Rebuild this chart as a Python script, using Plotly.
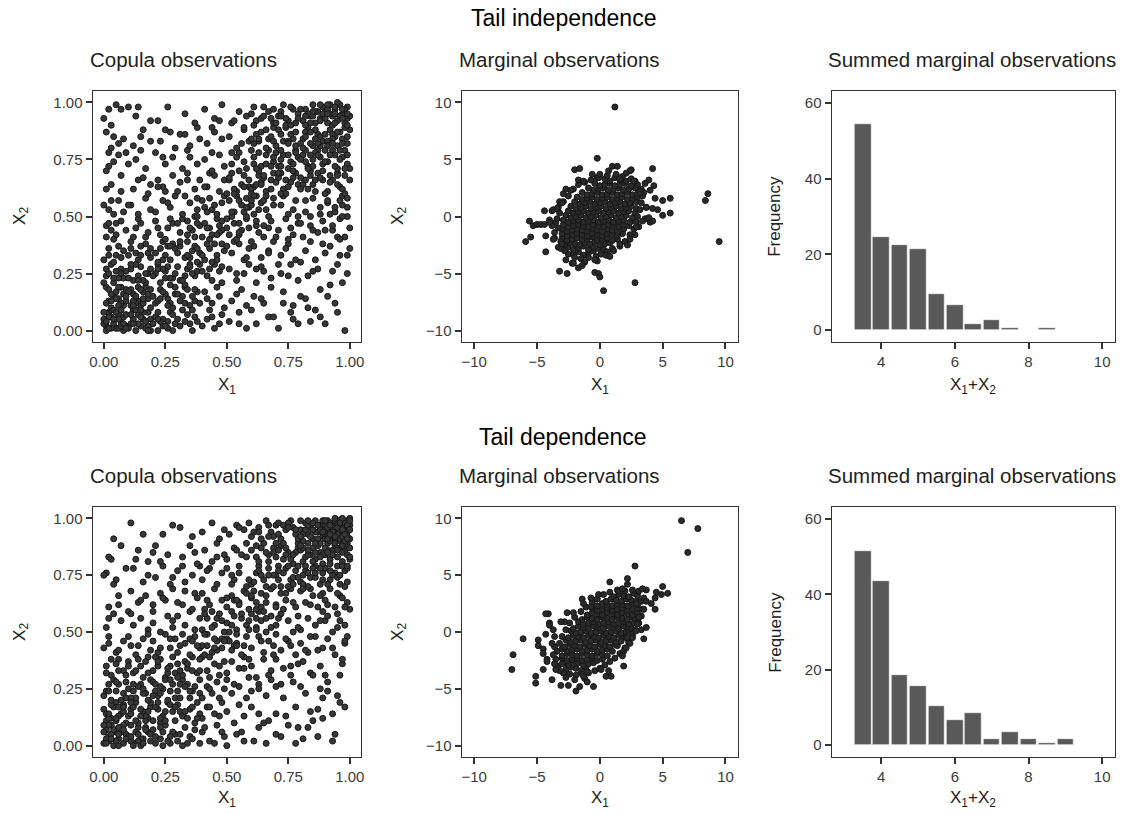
import numpy as np
import plotly.graph_objects as go

# ---------------- data ----------------
# Copula observations, tail independence (values in percent of [0,1])
cop_ind_pts = [
(1,2),(3,6),(5,1),(7,4),(2,8),(8,0),(0,5),(4,3),(6,7),(9,2),(1,0),(3,9),(6,1),(8,6),
(11,3),(14,7),(17,1),(12,9),(19,5),(15,2),(13,0),(18,8),(16,5),
(21,6),(24,2),(27,8),(29,3),(22,0),(26,4),(31,2),(34,7),(38,4),(36,0),
(42,5),(45,1),(48,7),(43,9),(51,4),(55,8),(58,1),(62,3),(67,6),(71,1),(76,8),(84,4),(98,0),
(2,13),(5,17),(8,11),(1,19),(4,15),(7,12),(9,18),(3,10),(6,14),
(12,16),(15,11),(18,14),(11,18),(14,13),(17,19),(19,10),(13,12),(16,17),
(21,12),(23,18),(26,14),(28,10),(25,16),(29,19),(32,15),(35,11),(38,17),(33,19),(37,13),
(41,17),(44,12),(47,15),(49,10),(52,13),(56,18),(58,11),(54,16),(61,15),(65,12),(68,19),
(73,17),(77,11),(82,14),(88,18),(94,12),
(1,24),(4,21),(7,27),(3,29),(8,23),(5,26),(12,22),(15,28),(18,25),(11,27),(17,21),(14,24),
(21,25),(23,21),(26,28),(28,23),(22,29),(27,20),(25,26),(31,22),(34,27),(37,24),(39,29),(33,20),(36,25),
(42,24),(45,29),(48,21),(43,27),(47,26),(51,27),(54,22),(57,25),(59,29),
(62,21),(65,26),(68,23),(64,28),(72,25),(76,29),(79,22),(83,24),(87,27),(93,26),(97,21),
(2,33),(6,37),(4,30),(8,35),(11,36),(14,31),(17,38),(13,34),(19,32),
(21,34),(24,39),(27,31),(29,36),(22,30),(26,37),(31,37),(33,32),(36,35),(38,30),(34,39),(39,34),
(41,31),(43,36),(46,33),(48,38),(44,30),(49,35),(52,34),(55,38),(57,31),(59,36),(53,39),
(61,37),(64,32),(67,35),(69,39),(72,33),(75,38),(78,31),(74,36),(82,35),(86,31),(89,38),(92,37),(96,33),
(1,46),(5,42),(7,48),(3,44),(12,41),(15,47),(18,43),(14,49),(22,45),(25,40),(28,47),(23,42),(27,49),
(31,43),(34,48),(37,41),(39,46),(32,49),(36,44),(41,47),(44,42),(46,49),(48,44),(43,40),(47,46),
(51,42),(53,47),(56,44),(58,49),(54,40),(59,45),(62,46),(65,41),(68,48),(63,43),(67,45),
(71,44),(74,49),(77,42),(79,47),(81,41),(84,46),(87,43),(89,48),(93,44),(96,49),(98,41),
(2,53),(6,57),(4,51),(11,55),(14,51),(17,58),(19,53),(21,52),(24,57),(27,54),(29,59),
(32,51),(35,56),(38,53),(33,59),(37,50),(41,54),(43,58),(46,51),(48,56),(44,53),(49,59),
(51,57),(53,52),(56,55),(58,50),(54,59),(59,54),(61,51),(64,56),(66,53),(69,58),(62,59),(67,50),
(72,55),(75,51),(78,57),(73,59),(77,53),(82,52),(85,58),(88,54),(84,50),(91,56),(94,52),(97,59),(99,54),
(3,64),(7,68),(12,62),(16,67),(19,64),(22,66),(25,61),(28,68),(24,63),(31,65),(34,69),(37,62),(39,66),
(42,63),(45,68),(47,61),(49,66),(43,69),(51,66),(54,61),(57,68),(59,63),(52,69),(56,64),
(61,63),(63,68),(66,61),(68,66),(64,65),(69,69),(71,67),(73,62),(76,65),(78,69),(74,60),(79,64),
(81,64),(84,68),(86,61),(89,66),(83,62),(87,69),(91,61),(93,66),(96,63),(98,68),(95,69),
(2,72),(6,77),(13,75),(17,71),(21,78),(25,73),(28,76),(32,71),(35,76),(38,73),(34,79),
(41,75),(44,70),(47,77),(49,72),(52,73),(55,78),(58,71),(54,76),(57,74),
(61,76),(64,72),(67,79),(69,74),(63,70),(66,77),(71,72),(73,77),(76,74),(78,79),(72,75),(75,71),(79,76),
(81,77),(83,72),(85,75),(87,79),(89,73),(82,74),(84,70),(86,78),(88,76),
(91,74),(93,79),(95,71),(97,76),(99,73),(94,77),
(4,85),(12,81),(16,88),(23,83),(27,87),(31,86),(35,81),(38,89),(42,82),(45,87),(48,84),(44,89),
(51,85),(54,80),(57,88),(59,83),(61,82),(64,87),(67,84),(69,89),(62,86),
(71,88),(73,83),(76,86),(78,81),(74,89),(77,84),
(81,84),(83,89),(85,81),(87,86),(89,83),(82,87),(84,82),(86,88),(88,85),
(91,83),(92,88),(94,85),(95,81),(96,87),(97,84),(98,89),(99,82),(93,86),
(7,97),(13,94),(22,92),(26,98),(33,95),(37,91),(41,97),(45,93),(48,99),(52,91),(55,96),(58,94),
(61,98),(64,93),(67,96),(69,91),(71,94),(73,99),(75,92),(77,97),(79,95),(74,90),
(81,92),(82,97),(84,94),(85,99),(86,91),(87,96),(88,93),(89,98),(83,95),
(90,96),(91,91),(92,99),(93,94),(94,97),(95,92),(96,99),(97,95),(98,91),(99,98),(91,97),(93,90),(96,94),(99,93),
(2,97),(5,99),(10,98),(1,87),(3,80),(1,70),(4,74),(14,98),(9,78),
]
cop_ind_extra = [
(0,3),(2,6),(4,9),(6,5),(9,7),(3,1),(7,2),(1,4),(5,8),(8,3),
(10,1),(12,5),(14,3),(16,8),(18,2),(11,7),(13,9),(15,6),(17,4),(19,0),
(20,3),(22,8),(24,5),(26,1),(28,7),(23,4),(30,5),(32,9),(35,3),(37,6),
(1,12),(3,16),(5,14),(7,19),(9,13),(2,18),(6,11),(8,16),
(10,17),(12,13),(14,19),(16,12),(18,16),(13,15),(15,18),(11,11),
(20,15),(22,13),(24,17),(27,12),(29,16),(31,13),(34,18),(36,15),(39,12),
(0,21),(2,25),(6,23),(9,26),(10,23),(13,29),(16,22),(19,27),(20,24),(24,27),(27,23),(30,28),(33,24),(35,29),(38,26),
(0,31),(5,33),(10,33),(15,37),(18,34),(23,36),(25,33),(28,38),(30,34),(35,32),(37,37),(40,33),
(40,41),(43,45),(45,38),(47,43),(50,45),(52,50),(55,47),(57,52),(45,55),(50,60),(55,42),(42,52),
(60,55),(62,48),(58,58),(48,48),(35,45),(38,50),(53,62),(60,62),(40,57),(65,57),
(60,60),(62,64),(65,67),(68,62),(70,65),(72,69),(75,63),(77,67),(80,62),(82,66),(85,64),(88,67),
(90,60),(92,65),(95,68),(97,62),(100,66),
(61,73),(63,78),(66,73),(69,76),(70,78),(72,72),(75,77),(77,73),(80,75),(82,79),(85,72),(87,77),
(90,74),(92,77),(94,72),(96,75),(98,79),(100,71),
(60,84),(63,83),(66,88),(68,85),(70,81),(72,86),(75,83),(78,87),(80,82),(82,85),(84,87),(86,84),
(88,81),(90,86),(91,81),(93,84),(95,87),(97,82),(99,85),(100,88),
(60,95),(62,92),(65,98),(68,93),(70,91),(72,96),(74,93),(76,98),(78,91),(80,97),(82,94),(84,91),
(86,96),(88,99),(90,93),(91,99),(92,95),(94,91),(95,100),(97,93),(98,97),(100,94),(99,90),(94,95),(89,95),(85,94),
(97,55),(99,50),(100,45),(98,60),(92,51),(95,41),(99,33),(96,57),
(0,55),(2,47),(1,62),(4,40),(8,52),
(77,5),(86,9),(90,3),(80,15),(92,20),
(0,93),(3,90),(8,84),(15,85),(19,92),(25,88),
]
cop_ind_extra2 = [
(2,1),(4,5),(7,9),(9,1),(0,8),(12,3),(15,9),(18,0),(22,5),(25,2),(28,0),(33,4),(36,9),(40,2),(44,6),(47,3),
(3,13),(6,19),(9,15),(12,11),(16,14),(19,18),(23,14),(26,11),(30,16),(33,12),(37,18),(42,14),(46,19),
(1,27),(4,23),(7,25),(11,29),(14,22),(17,25),(22,27),(25,23),(29,25),(32,22),(35,28),(40,26),(44,22),(48,28),
(2,36),(7,32),(11,39),(15,33),(19,36),(24,31),(27,37),(31,39),(34,33),(38,36),(42,38),(46,31),(50,37),
(1,41),(5,47),(9,44),(13,45),(17,41),(21,48),(26,45),(30,47),(34,42),(38,47),(42,45),(46,42),(50,49),
(52,52),(55,57),(58,54),(61,59),(53,60),(57,63),(60,57),(63,53),(66,59),(69,55),(72,60),(64,64),
(51,67),(55,70),(59,66),(62,71),(65,68),(68,72),(71,69),(74,66),(77,70),(80,67),(83,71),(86,66),
(89,70),(92,68),(95,64),(98,71),
(52,78),(56,82),(60,79),(63,84),(66,80),(69,83),(72,79),(75,82),(78,78),(81,80),(84,77),(87,82),
(90,79),(93,82),(96,79),(99,77),
(53,92),(57,89),(61,90),(65,94),(69,97),(72,94),(76,90),(79,93),(82,90),(85,96),(88,92),(91,95),
(94,98),(97,97),(99,95),
(91,57),(94,54),(97,50),(99,58),(93,46),(96,40),(100,36),(88,51),(85,44),(82,57),(79,50),(76,45),
(3,57),(7,61),(10,55),(14,66),(18,60),(22,63),(26,56),(30,61),(34,66),(38,58),(41,63),
(2,78),(6,82),(10,73),(15,79),(19,83),(24,76),(29,80),(33,86),(39,84),(44,78),(47,92),
(55,3),(60,9),(64,14),(69,6),(73,12),(79,3),(83,10),(88,6),(95,8),(91,15),
(54,25),(58,32),(62,27),(67,34),(71,29),(75,24),(80,30),(85,26),(90,34),(95,29),(99,25),
(55,43),(60,39),(65,46),(70,41),(75,40),(80,47),(84,39),(90,44),
]

# Copula observations, tail dependence
cop_dep_pts = [
(0,1),(2,4),(4,0),(6,3),(8,1),(1,7),(3,9),(5,6),(7,8),(9,5),(2,2),(6,0),
(10,4),(12,1),(14,8),(16,3),(18,6),(11,9),(15,0),(19,2),
(20,7),(23,3),(25,9),(27,1),(29,5),(24,0),(30,2),(33,8),(35,4),(39,1),
(40,6),(43,2),(46,9),(49,4),(50,0),(54,5),(57,2),(63,8),(66,1),(72,4),(75,9),(81,3),(93,2),
(0,16),(3,12),(5,19),(7,14),(9,10),(1,11),(4,17),(6,13),(8,18),
(10,13),(12,18),(14,10),(16,15),(18,12),(11,16),(13,19),(17,11),(19,17),
(20,11),(22,16),(24,13),(26,19),(28,15),(23,10),(30,18),(32,13),(35,16),(37,10),(39,14),
(40,12),(42,17),(45,14),(48,19),(50,15),(53,10),(55,18),(57,13),(60,17),(63,14),(67,11),
(70,14),(78,17),(85,11),(87,16),(96,19),
(0,22),(2,27),(5,24),(7,20),(9,28),(4,29),(10,25),(13,21),(15,27),(17,23),(19,29),(12,24),
(20,28),(22,22),(24,25),(26,20),(28,27),(21,24),(29,21),(30,24),(32,29),(35,21),(37,26),(39,23),(34,27),
(40,21),(42,26),(44,23),(46,28),(49,25),(50,29),(52,23),(55,26),(58,21),
(60,24),(63,27),(66,22),(68,29),(70,26),(73,21),(77,28),(82,23),(88,25),(91,28),(95,22),
(1,35),(3,31),(6,38),(8,33),(10,37),(12,32),(15,35),(18,39),(16,30),
(20,33),(23,38),(25,30),(27,35),(29,32),(21,39),(30,36),(32,31),(34,34),(36,39),(38,32),(31,33),
(40,39),(42,33),(45,36),(47,31),(49,37),(43,30),(50,32),(52,37),(55,34),(57,39),(59,30),
(60,35),(62,30),(65,38),(68,33),(70,38),(73,34),(76,31),(79,36),(81,37),(84,32),(88,35),(90,31),(97,36),
(0,43),(2,48),(5,41),(8,46),(11,44),(13,40),(16,47),(19,42),(20,46),(22,41),(25,49),(27,43),(29,47),
(30,41),(33,45),(35,40),(37,48),(39,43),(32,49),(40,44),(42,49),(44,41),(46,46),(48,43),(41,40),
(50,47),(52,42),(54,45),(56,40),(58,48),(53,44),(60,43),(63,48),(65,41),(67,46),(69,44),
(70,49),(72,42),(75,46),(78,40),(80,45),(83,41),(86,48),(89,43),(91,47),(94,40),(98,45),
(1,52),(4,58),(7,55),(10,59),(12,53),(15,56),(18,51),(20,54),(23,50),(26,57),(28,52),
(30,57),(33,53),(35,59),(37,51),(39,56),(40,51),(42,56),(45,53),(47,58),(49,50),(44,59),
(50,54),(52,59),(54,51),(56,56),(58,53),(51,50),(60,58),(62,52),(64,55),(66,50),(68,57),(63,59),
(70,53),(72,58),(75,55),(77,50),(79,57),(80,51),(83,56),(86,53),(89,59),(90,55),(93,50),(95,58),(98,53),
(2,61),(6,66),(11,68),(14,63),(17,66),(20,62),(23,67),(25,64),(28,69),(30,63),(33,68),(36,60),(38,65),
(40,67),(43,62),(45,69),(48,64),(41,60),(50,61),(52,66),(55,63),(57,68),(59,60),(53,64),
(60,65),(62,60),(64,67),(66,63),(68,69),(61,68),(70,62),(72,67),(74,64),(76,69),(78,61),(73,60),
(80,68),(82,63),(85,66),(87,61),(89,67),(84,69),(90,64),(92,69),(94,61),(96,66),(99,63),
(1,76),(5,73),(12,78),(16,72),(21,74),(24,79),(27,71),(30,77),(33,72),(36,75),(39,79),
(40,73),(43,78),(46,71),(48,76),(50,78),(53,73),(55,76),(58,70),(52,71),
(60,71),(62,76),(65,73),(67,78),(69,70),(63,79),(70,75),(72,70),(74,78),(76,73),(78,77),(71,79),(77,71),
(80,72),(82,77),(84,74),(86,79),(88,71),(81,75),(83,70),(85,78),(89,76),
(90,78),(92,73),(94,76),(96,71),(98,77),(95,79),
(3,82),(14,86),(18,81),(21,88),(26,84),(32,83),(35,88),(38,80),(41,86),(44,81),(46,89),(49,84),
(50,82),(53,87),(56,84),(58,89),(60,86),(63,81),(65,89),(67,84),(69,87),
(70,83),(72,88),(75,85),(77,80),(79,87),(73,82),
(80,86),(81,81),(83,89),(84,84),(85,87),(86,82),(87,88),(88,85),(89,80),(82,83),
(90,84),(91,89),(92,82),(93,86),(94,88),(95,83),(96,87),(97,81),(98,86),(99,89),
(4,91),(11,98),(24,93),(28,97),(31,96),(36,92),(40,94),(44,98),(47,91),(51,93),(54,97),(57,95),
(60,92),(63,96),(66,99),(68,94),(70,97),(72,91),(74,95),(76,99),(78,93),(75,98),
(80,95),(81,90),(82,98),(83,93),(84,96),(85,91),(86,99),(87,94),(88,97),(89,92),
(90,91),(90,97),(91,94),(91,99),(92,92),(92,96),(93,90),(93,98),(94,93),(94,97),(95,91),(95,95),
(95,99),(96,93),(96,97),(97,90),(97,94),(97,98),(98,92),(98,96),(99,94),(99,99),(100,97),(100,100),
(91,86),(93,92),(96,90),(98,88),(99,96),(94,99),(97,92),(92,94),
]
cop_dep_extra = [
(1,3),(3,5),(5,2),(7,6),(9,3),(2,9),(4,7),(8,9),(0,6),(6,8),
(11,2),(13,6),(15,3),(17,8),(19,5),(12,0),(16,1),(14,5),
(21,4),(23,8),(26,2),(28,6),(31,5),(34,1),(37,7),
(1,14),(3,18),(5,11),(8,15),(2,12),(6,17),(11,14),(13,11),(15,16),(17,13),(19,19),(12,17),
(21,17),(23,12),(25,15),(27,18),(29,11),(31,15),(34,12),(36,17),(38,19),
(1,24),(3,20),(6,27),(8,23),(11,21),(14,26),(16,23),(18,20),(21,27),(23,23),(25,29),(27,24),(31,21),(33,26),(36,24),
(1,32),(5,36),(9,31),(13,33),(17,37),(22,35),(26,32),(28,39),(33,37),(36,33),(39,38),
(42,44),(46,42),(48,47),(51,46),(54,49),(57,44),(44,52),(48,55),(53,57),(59,55),(62,51),(45,47),
(38,44),(35,47),(55,62),(60,66),(64,61),(50,65),(41,58),(66,56),
(61,72),(64,75),(66,70),(69,75),(71,73),(73,76),(75,70),(77,74),(79,79),(81,71),(83,76),(86,74),
(88,78),(91,71),(93,75),(95,74),(97,79),(99,72),
(62,83),(64,87),(67,81),(69,85),(71,86),(73,89),(74,84),(76,82),(78,85),(79,89),(81,87),(83,84),
(85,81),(86,85),(88,89),(89,84),(90,87),(92,80),(93,84),(95,86),(97,88),(99,84),(100,87),
(61,94),(64,91),(67,97),(69,92),(71,93),(73,97),(77,96),(79,91),(80,99),(81,93),(82,95),(83,97),
(84,92),(85,98),(86,94),(87,91),(88,95),(89,99),(90,93),(90,95),(91,92),(91,96),(92,90),(92,98),
(93,93),(93,96),(94,91),(94,95),(94,100),(95,93),(95,97),(96,91),(96,95),(96,99),(97,92),(97,96),
(98,94),(98,98),(99,92),(99,97),(100,95),(100,91),(98,90),(97,100),
(100,82),(99,78),(98,70),(97,65),(100,60),(96,55),(99,48),
(84,15),(89,21),(93,14),(79,8),(87,4),
(2,83),(7,88),(16,93),(20,85),(0,75),
]
cop_dep_extra2 = [
(1,1),(3,3),(6,5),(8,7),(0,9),(11,4),(14,2),(17,7),(21,1),(24,6),(27,4),(32,0),(36,3),(41,8),(45,1),(48,6),
(2,14),(5,12),(8,17),(11,19),(15,13),(18,15),(22,19),(25,11),(29,17),(33,15),(38,12),(43,17),(47,13),
(2,24),(5,28),(9,21),(12,27),(16,25),(20,22),(23,26),(27,29),(31,27),(35,24),(39,29),(43,25),(47,21),
(3,38),(6,33),(10,35),(14,38),(18,32),(22,37),(26,34),(30,30),(34,36),(39,33),(43,39),(47,35),
(2,45),(6,42),(10,48),(14,44),(18,49),(23,43),(27,47),(31,44),(36,46),(41,49),(45,43),(49,46),
(52,53),(56,58),(59,51),(62,56),(65,59),(68,52),(71,56),(54,64),(58,67),(62,63),(66,66),(70,61),(74,67),
(77,63),(81,69),(84,62),(88,66),(91,62),(95,67),(98,61),
(52,75),(55,79),(59,73),(63,77),(67,75),(71,77),(75,79),(79,74),(82,79),(86,76),(89,73),(92,77),(96,75),(99,79),
(54,86),(58,83),(62,88),(66,85),(70,89),(74,87),(77,84),(80,88),(83,86),(86,89),(88,83),(91,85),(94,89),(97,85),(100,83),
(55,96),(59,98),(63,94),(67,92),(71,98),(75,96),(78,95),(80,92),(83,99),(85,95),(87,97),(89,94),
(91,91),(92,97),(93,94),(94,92),(95,96),(96,98),(97,95),(98,93),(99,91),(100,99),(92,93),(90,99),
(91,57),(95,52),(98,46),(93,43),(97,38),(88,55),(84,48),(79,52),(76,44),(82,42),
(2,56),(6,62),(11,58),(15,64),(20,59),(24,65),(28,55),(32,62),(37,67),(42,64),(46,56),
(4,71),(9,78),(13,82),(18,75),(23,81),(28,74),(32,79),(37,85),(42,77),(46,83),(49,95),
(56,6),(61,2),(65,10),(70,5),(74,13),(78,1),(83,8),(89,12),(94,5),(98,17),
(53,27),(57,34),(63,25),(67,31),(72,27),(76,35),(80,26),(85,31),(91,24),(96,31),
(54,44),(59,38),(64,46),(69,40),(74,47),(87,42),
]

# Marginal observations, tail independence (values in tenths)
marg_ind_pts = [
(-21,-33),(-17,-31),(-13,-34),(-9,-32),(-5,-30),
(-25,-27),(-21,-29),(-17,-28),(-13,-26),(-9,-29),(-5,-27),(-1,-28),(3,-29),
(-28,-25),(-24,-23),(-20,-24),(-16,-25),(-12,-23),(-8,-24),(-4,-22),(0,-25),(4,-24),(8,-23),
(-30,-19),(-26,-21),(-22,-20),(-18,-19),(-14,-21),(-10,-20),(-6,-18),(-2,-21),(2,-20),(6,-19),(10,-21),(14,-20),
(-30,-15),(-26,-17),(-22,-16),(-18,-15),(-14,-16),(-10,-17),(-6,-15),(-2,-16),(2,-17),(6,-15),(10,-16),(14,-17),(18,-15),
(-30,-11),(-26,-13),(-22,-12),(-18,-11),(-14,-12),(-10,-13),(-6,-11),(-2,-12),(2,-13),(6,-11),(10,-12),(14,-13),(19,-11),
(-29,-7),(-25,-9),(-21,-8),(-17,-7),(-13,-8),(-9,-9),(-5,-7),(-1,-8),(3,-9),(7,-7),(11,-8),(15,-9),(19,-7),(23,-8),
(-29,-3),(-25,-5),(-21,-4),(-17,-3),(-13,-5),(-9,-4),(-5,-3),(-1,-5),(3,-4),(7,-3),(11,-5),(15,-4),(19,-3),(24,-5),
(-27,1),(-23,-1),(-19,0),(-15,1),(-11,-1),(-7,0),(-3,1),(1,-1),(5,0),(9,1),(13,-1),(17,0),(21,1),(26,-1),
(-25,5),(-21,3),(-17,4),(-13,5),(-9,3),(-5,4),(-1,5),(3,3),(7,4),(11,5),(15,3),(19,4),(23,5),(28,3),
(-23,9),(-19,7),(-15,8),(-11,9),(-7,7),(-3,8),(1,9),(5,7),(9,8),(13,9),(17,7),(21,8),(25,9),(29,7),
(-20,13),(-16,11),(-12,12),(-8,13),(-4,11),(0,12),(4,13),(8,11),(12,12),(16,13),(20,11),(24,12),(29,13),
(-18,17),(-14,15),(-10,16),(-6,17),(-2,15),(2,16),(6,17),(10,15),(14,16),(18,17),(22,15),(26,16),(30,17),
(-14,21),(-10,19),(-6,20),(-2,21),(2,19),(6,20),(10,21),(14,19),(18,20),(22,21),(26,19),(30,20),
(-9,25),(-5,23),(-1,24),(3,25),(7,23),(11,24),(15,25),(19,23),(23,24),(28,25),
(-4,29),(0,27),(4,28),(8,29),(12,27),(16,28),(20,29),(25,27),
(4,33),(8,31),(12,34),(16,32),(21,31),
(-33,-10),(-35,-5),(-32,3),(-36,-14),(-31,-22),(-34,-2),(-33,8),(-29,13),(-25,18),(-21,24),(-17,28),
(-12,30),(-7,32),(-2,34),(6,36),(13,37),(18,35),(25,33),(30,28),(33,24),(34,18),(33,12),(32,6),(30,0),
(29,-5),(27,-11),(24,-16),(20,-22),(16,-26),(10,-28),(6,-31),(1,-33),(-3,-35),(-9,-36),(-15,-37),
(-20,-36),(-25,-33),(-28,-30),(-33,-27),(-36,-19),(-38,-8),(-40,-3),(-27,-38),(-12,-40),(-2,-39),
(37,8),(36,-2),(40,-5),(35,21),(28,31),(-38,5),(-29,20),(-22,-41),(24,-20),(22,-25),(31,-9),
(12,96),(-2,51),(-20,41),(-16,42),(-6,37),(10,44),(14,44),(25,41),(24,40),(42,42),
(-27,24),(-23,23),(39,32),(36,29),(43,27),(50,14),(56,16),(56,3),(50,1),(44,16),(42,7),(42,-4),
(84,14),(86,20),(95,-22),(-56,-4),(-53,-8),(-50,-7),(-47,-7),(-44,-7),(-40,-5),(-59,-22),(-55,-18),
(-44,5),(-43,-17),(-43,-31),(-32,-48),(-26,-50),(-31,-28),(-30,-24),(-37,-20),(-32,13),(-30,12),
(-37,6),(-34,7),(-4,-49),(-1,-50),(0,-53),(3,-65),(28,-58),(-17,-45),(-21,-41),(-14,-43),(-4,-38),
(5,-34),(8,-35),(11,-30),(28,-16),(16,-24),(-17,32),(-13,31),(-1,34),(0,37),(7,40),(16,33),(21,38),
(27,31),(40,23),(32,21),(37,8),(46,6),(39,-1),(34,-4),(29,-9),
]

# Marginal observations, tail dependence (values in tenths)
marg_dep_pts = [
(-27,-33),(-23,-31),(-19,-32),(-15,-34),(-11,-31),
(-29,-27),(-25,-29),(-21,-28),(-17,-27),(-13,-29),(-9,-28),(-5,-27),
(-30,-23),(-26,-25),(-22,-24),(-18,-23),(-14,-25),(-10,-24),(-6,-23),(-2,-25),(2,-24),
(-30,-21),(-26,-19),(-22,-20),(-18,-21),(-14,-19),(-10,-20),(-6,-21),(-2,-19),(2,-20),(6,-21),
(-30,-15),(-26,-17),(-22,-16),(-18,-15),(-14,-17),(-10,-16),(-6,-15),(-2,-17),(2,-16),(6,-15),(10,-17),
(-28,-13),(-24,-11),(-20,-12),(-16,-13),(-12,-11),(-8,-12),(-4,-13),(0,-11),(4,-12),(8,-13),(12,-11),(14,-12),
(-27,-7),(-23,-9),(-19,-8),(-15,-7),(-11,-9),(-7,-8),(-3,-7),(1,-9),(5,-8),(9,-7),(13,-9),(17,-8),
(-25,-5),(-21,-3),(-17,-4),(-13,-5),(-9,-3),(-5,-4),(-1,-5),(3,-3),(7,-4),(11,-5),(15,-3),(19,-4),(21,-5),
(-23,1),(-19,-1),(-15,0),(-11,1),(-7,-1),(-3,0),(1,1),(5,-1),(9,0),(13,1),(17,-1),(21,0),(23,1),
(-21,3),(-17,5),(-13,4),(-9,3),(-5,5),(-1,4),(3,3),(7,5),(11,4),(15,3),(19,5),(23,4),(25,3),
(-17,9),(-13,7),(-9,8),(-5,9),(-1,7),(3,8),(7,9),(11,7),(15,8),(19,9),(23,7),(27,8),
(-14,11),(-10,13),(-6,12),(-2,11),(2,13),(6,12),(10,11),(14,13),(18,12),(22,11),(26,13),(28,12),
(-10,15),(-6,17),(-2,16),(2,15),(6,17),(10,16),(14,15),(18,17),(22,16),(26,15),(30,17),
(-6,21),(-2,19),(2,20),(6,21),(10,19),(14,20),(18,21),(22,19),(26,20),(30,21),
(-2,23),(2,25),(6,24),(10,23),(14,25),(18,24),(22,23),(26,25),(30,24),
(5,27),(9,29),(13,28),(17,27),(21,29),(25,28),(29,27),
(11,31),(15,33),(19,32),(23,31),(27,34),
(-33,-30),(-35,-24),(-34,-17),(-32,-10),(-30,-4),(-27,2),(-24,8),(-20,13),(-15,18),(-11,22),(-6,26),
(-2,29),(3,33),(8,35),(14,37),(20,36),(26,37),(30,32),(33,27),(34,20),(33,14),(31,8),(28,2),(26,-3),
(23,-9),(20,-14),(16,-19),(12,-23),(8,-26),(4,-29),(0,-32),(-4,-34),(-9,-36),(-14,-37),(-19,-38),
(-24,-37),(-29,-36),(-32,-34),(-36,-28),(-37,-20),(-36,-13),(-20,-42),(-12,-41),(-27,-40),(31,36),
(35,30),(22,-5),(-28,9),(-21,17),(-7,30),(33,2),(19,-17),
(65,98),(78,91),(70,70),(28,58),(8,44),(22,47),(22,42),(50,40),(54,34),(49,33),(45,35),(44,30),
(37,37),(34,38),(41,25),(44,20),(37,27),(35,20),(30,7),(37,4),(29,1),(35,-6),(19,-30),(18,-21),
(9,-39),(7,-34),(5,-39),(-5,-48),(-10,-44),(-16,-48),(-19,-52),(-25,-47),(-31,-47),(-38,-42),
(-51,-39),(-51,-45),(-45,-33),(-35,-33),(-30,-28),(-69,-20),(-70,-33),(-61,-6),(-49,-7),(-49,-12),
(-45,-15),(-45,-19),(-42,-24),(-42,-26),(-41,16),(-43,16),(-40,8),(-40,6),(-43,-2),(-38,-10),
(-36,-4),(-31,9),(-37,2),(-26,17),(-14,29),(-13,25),(-1,33),(-7,22),(13,28),(15,36),(18,38),
(29,25),(31,13),(26,-5),(21,-14),(24,-10),(-10,-35),(1,-33),(-13,-39),
]

# Summed marginal observations (histograms)
hist_centers = [3.5, 4.0, 4.5, 5.0, 5.5, 6.0, 6.5, 7.0, 7.5, 8.0, 8.5, 9.0]
hist_ind_freq = [54.5, 24.7, 22.6, 21.5, 9.6, 6.5, 1.5, 2.7, 0.6, 0.0, 0.6, 0.0]
hist_dep_freq = [51.5, 43.6, 18.6, 15.6, 10.5, 6.6, 8.5, 1.6, 3.6, 1.6, 0.5, 1.6]

main_titles = ["Tail independence", "Tail dependence"]
sub_titles = ["Copula observations", "Marginal observations", "Summed marginal observations"]

# ---------------- figure ----------------
W, H = 1126, 814
FONT = "Liberation Sans, Arial, Helvetica, sans-serif"

def px(x):
    return x / W

def py(y):
    return 1 - y / H

col_x = [(90, 360), (461, 739), (833, 1118)]
row_y = [(91, 342), (507, 757)]

fig = go.Figure()

marker_cop = dict(size=6, color="#383838", line=dict(color="#161616", width=1))
marker_marg = dict(size=6, color="#2a2a2a", line=dict(color="#161616", width=1))

data_sets = [
    (np.array(cop_ind_pts + cop_ind_extra + cop_ind_extra2) / 100.0,
     np.array(marg_ind_pts) / 10.0, hist_ind_freq),
    (np.array(cop_dep_pts + cop_dep_extra + cop_dep_extra2) / 100.0,
     np.array(marg_dep_pts) / 10.0, hist_dep_freq),
]

axis_common = dict(
    showgrid=False, zeroline=False, showline=True, linecolor="#333333", linewidth=1,
    mirror=True, ticks="outside", ticklen=6, tickwidth=1.5, tickcolor="#333333",
    tickfont=dict(family=FONT, size=15, color="#3a3a3a"),
)

k = 0
for r, (cop, marg, hfreq) in enumerate(data_sets):
    for c in range(3):
        k += 1
        xa = "x" if k == 1 else f"x{k}"
        ya = "y" if k == 1 else f"y{k}"
        xname = "xaxis" if k == 1 else f"xaxis{k}"
        yname = "yaxis" if k == 1 else f"yaxis{k}"
        dom_x = [px(col_x[c][0]), px(col_x[c][1])]
        dom_y = [py(row_y[r][1]), py(row_y[r][0])]
        if c == 0:
            fig.add_trace(go.Scatter(x=cop[:, 0], y=cop[:, 1], mode="markers",
                                     marker=marker_cop, xaxis=xa, yaxis=ya, showlegend=False))
            xr, yr = [-0.046, 1.046], [-0.05, 1.05]
            tv = [0, 0.25, 0.5, 0.75, 1.0]
            xt = dict(tickvals=tv, tickformat=".2f")
            yt = dict(tickvals=tv, tickformat=".2f")
        elif c == 1:
            fig.add_trace(go.Scatter(x=marg[:, 0], y=marg[:, 1], mode="markers",
                                     marker=marker_marg, xaxis=xa, yaxis=ya, showlegend=False))
            xr, yr = [-11, 11], [-11, 11]
            xt = dict(tickvals=[-10, -5, 0, 5, 10])
            yt = dict(tickvals=[-10, -5, 0, 5, 10])
        else:
            fig.add_trace(go.Bar(x=hist_centers, y=hfreq, width=0.45,
                                 marker=dict(color="#595959", line=dict(color="white", width=0.6)),
                                 xaxis=xa, yaxis=ya, showlegend=False))
            xr, yr = [2.65, 10.35], [-3.15, 63.15]
            xt = dict(tickvals=[4, 6, 8, 10])
            yt = dict(tickvals=[0, 20, 40, 60])
        fig.update_layout(**{
            xname: dict(domain=dom_x, range=xr, anchor=ya, **xt, **axis_common),
            yname: dict(domain=dom_y, range=yr, anchor=xa, **yt, **axis_common),
        })

ann = []
title_y = [18, 437]
sub_y = [59, 475]
xtitle_y = [386, 799]
ytitle_y = [216, 632]
sub_x = [85, 456, 827]
xtitle_x = [225, 600, 975]
ytitle_x = [18, 398, 776]
xtitles = ["X<sub>1</sub>", "X<sub>1</sub>", "X<sub>1</sub>+X<sub>2</sub>"]
ytitles = ["X<sub>2</sub>", "X<sub>2</sub>", "Frequency"]
for r in range(2):
    ann.append(dict(text=main_titles[r], x=0.5, y=py(title_y[r]), xref="paper", yref="paper",
                    xanchor="center", yanchor="middle", showarrow=False,
                    font=dict(family=FONT, size=23, color="#000000")))
    for c in range(3):
        ann.append(dict(text=sub_titles[c], x=px(sub_x[c]), y=py(sub_y[r]), xref="paper", yref="paper",
                        xanchor="left", yanchor="middle", showarrow=False,
                        font=dict(family=FONT, size=20.5, color="#222222")))
        ann.append(dict(text=xtitles[c], x=px(xtitle_x[c]), y=py(xtitle_y[r]), xref="paper", yref="paper",
                        xanchor="center", yanchor="middle", showarrow=False,
                        font=dict(family=FONT, size=17, color="#222222")))
        ann.append(dict(text=ytitles[c], x=px(ytitle_x[c]), y=py(ytitle_y[r]), xref="paper", yref="paper",
                        xanchor="center", yanchor="middle", showarrow=False, textangle=-90,
                        font=dict(family=FONT, size=17, color="#222222")))

fig.update_layout(
    width=W, height=H, margin=dict(l=0, r=0, t=0, b=0),
    paper_bgcolor="white", plot_bgcolor="white",
    annotations=ann, bargap=0, font=dict(family=FONT),
)

fig.write_html("out.html")
